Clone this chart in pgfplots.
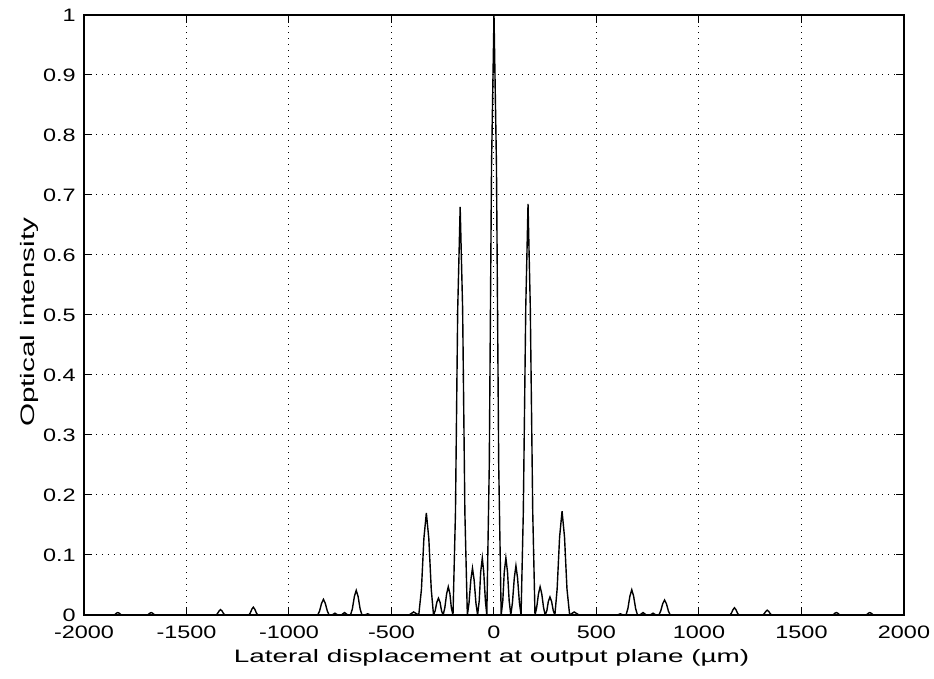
\documentclass[border=0pt]{standalone}
\usepackage{fontspec}
\setmainfont{Liberation Sans}
\usepackage{pgfplots}
\pgfplotsset{compat=1.18}
\begin{document}
\begin{tikzpicture}
\begin{axis}[
  scale only axis,
  width=410pt, height=300pt,
  xmin=-2000, xmax=2000, ymin=0, ymax=1,
  xtick={-2000,-1500,-1000,-500,0,500,1000,1500,2000},
  xticklabels={-2000,-1500,-1000,-500,0,500,1000,1500,2000},
  ytick={0,0.1,0.2,0.3,0.4,0.5,0.6,0.7,0.8,0.9,1},
  yticklabels={0,0.1,0.2,0.3,0.4,0.5,0.6,0.7,0.8,0.9,1},
  tick pos=both,
  tick align=inside,
  major tick length=4pt,
  tick style={black, line width=0.5pt},
  axis line style={black, line width=0.7pt},
  grid=major,
  major grid style={black, line width=0.5pt, dash pattern=on 0.5pt off 2.5pt},
  xticklabel style={font=\fontsize{9}{10}\selectfont, xscale=1.3, anchor=base, yshift=-12pt, inner sep=0pt},
  yticklabel style={font=\fontsize{9}{10}\selectfont, xscale=1.3, anchor=east, xshift=-3pt, inner sep=0pt},
  xlabel={Lateral displacement at output plane (µm)},
  ylabel={Optical intensity},
  xlabel style={font=\fontsize{9}{11}\selectfont, xscale=1.55, at={(axis description cs:0.497,0)}, anchor=base, yshift=-24pt, inner sep=0pt},
  ylabel style={font=\fontsize{9.75}{11}\selectfont, at={(axis description cs:0,0.488)}, anchor=base, yshift=24.5pt, xscale=1.52, inner sep=0pt},
]
\addplot[black, line width=0.7pt] coordinates {
(-2000,0)
(-1855,0) (-1848,0.001) (-1842,0.003) (-1835,0.004) (-1828,0.003) (-1822,0.001) (-1815,0)
(-1692,0) (-1685,0.001) (-1679,0.003) (-1672,0.004) (-1665,0.003) (-1659,0.001) (-1652,0)
(-1356,0) (-1349,0.0023) (-1341,0.0068) (-1334,0.009) (-1327,0.0068) (-1319,0.0023) (-1312,0)
(-1196,0) (-1189,0.0033) (-1181,0.0098) (-1174,0.013) (-1167,0.0098) (-1159,0.0033) (-1152,0)
(-860,0) (-851,0.0065) (-841,0.0195) (-832,0.026) (-823,0.0195) (-813,0.0065) (-804,0)
(-790,0) (-783,0.0015) (-776,0.003) (-769,0.0015) (-762,0)
(-745,0) (-737,0.002) (-729,0.004) (-721,0.002) (-713,0)
(-700,0) (-691,0.010) (-681,0.031) (-672,0.041) (-663,0.031) (-653,0.010) (-644,0)
(-630,0) (-616,0.002) (-602,0)
(-415,0) (-403,0.0025) (-392,0.005) (-380,0.0025) (-367,0)
(-354,0.0425) (-342,0.1275) (-330,0.17) (-318,0.1275) (-306,0.0425) (-295,0)
(-287,0.007) (-279,0.021) (-271,0.028) (-263,0.021) (-256,0.007) (-248,0)
(-240,0.0118) (-231,0.0353) (-223,0.047) (-215,0.0353) (-208,0.0118) (-200,0)
(-188,0.17) (-177,0.51) (-165,0.68) (-153,0.51) (-142,0.17) (-130,0)
(-122,0.0195) (-113,0.0585) (-105,0.078) (-97,0.0585) (-88,0.0195) (-80,0)
(-72,0.0238) (-65,0.0713) (-57,0.095) (-50,0.0713) (-42,0.0238) (-35,0)
(-23,0.25) (-12,0.75) (0,1) (12,0.75) (23,0.25) (35,0)
(43,0.0238) (50,0.0713) (58,0.095) (66,0.0713) (74,0.0238) (82,0)
(90,0.0205) (99,0.0615) (107,0.082) (115,0.0615) (124,0.0205) (132,0)
(143,0.171) (155,0.514) (166,0.685) (177,0.514) (189,0.171) (200,0)
(208,0.0118) (217,0.0353) (225,0.047) (233,0.0353) (242,0.0118) (250,0)
(258,0.0075) (265,0.0225) (273,0.03) (281,0.0225) (289,0.0075) (297,0)
(308,0.0433) (320,0.13) (332,0.173) (344,0.13) (356,0.0433) (369,0)
(380,0.0025) (391,0.005) (403,0.0025) (415,0)
(602,0) (616,0.002) (630,0)
(644,0) (653,0.0105) (663,0.0315) (672,0.042) (681,0.0315) (691,0.0105) (700,0)
(711,0) (719,0.002) (727,0.004) (735,0.002) (743,0)
(762,0) (769,0.0015) (776,0.003) (783,0.0015) (790,0)
(804,0) (813,0.0063) (823,0.0188) (832,0.025) (841,0.0188) (851,0.0063) (860,0)
(1151,0) (1158,0.003) (1166,0.009) (1173,0.012) (1180,0.009) (1188,0.003) (1195,0)
(1311,0) (1318,0.002) (1326,0.006) (1333,0.008) (1340,0.006) (1348,0.002) (1355,0)
(1650,0) (1657,0.001) (1663,0.003) (1670,0.004) (1677,0.003) (1683,0.001) (1690,0)
(1813,0) (1820,0.001) (1826,0.003) (1833,0.004) (1840,0.003) (1846,0.001) (1853,0)
(2000,0)
};
\end{axis}
\pgfresetboundingbox
\path (-42pt,-32pt) rectangle (425pt,307.5pt);
\end{tikzpicture}
\end{document}
